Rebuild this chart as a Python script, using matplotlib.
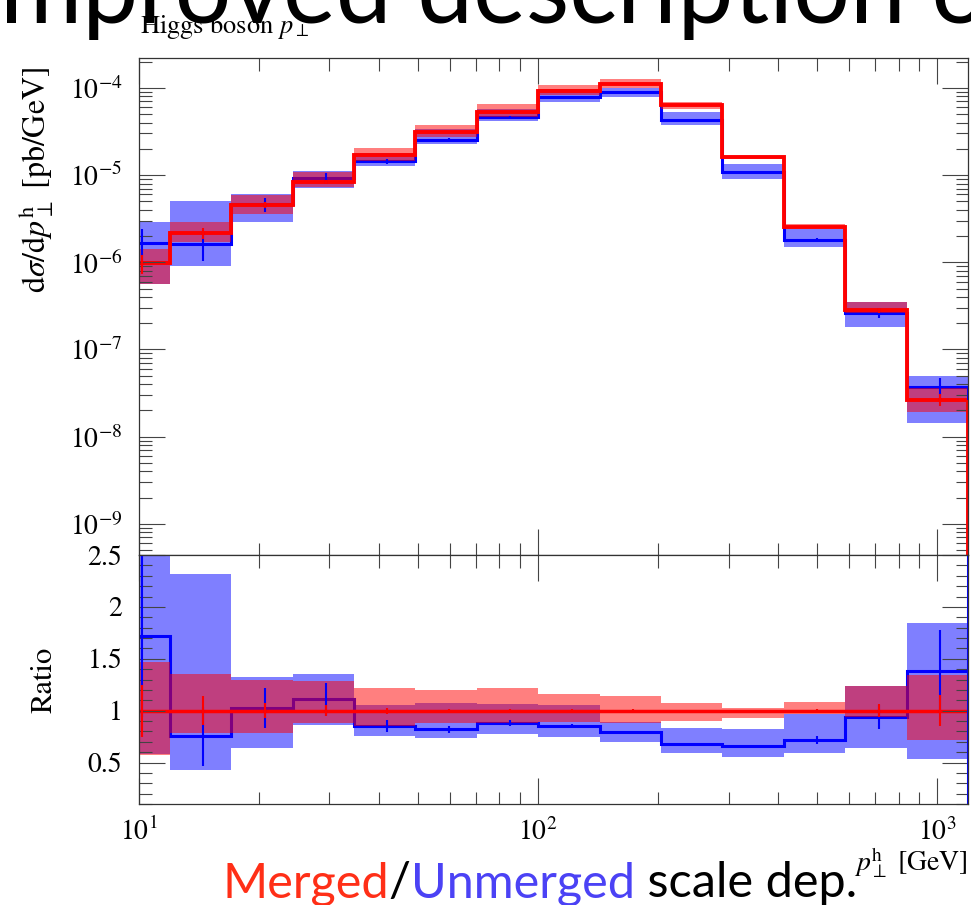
import numpy as np
import matplotlib
matplotlib.use("Agg")
import matplotlib.pyplot as plt
from matplotlib.ticker import LogLocator, MultipleLocator, NullFormatter, FuncFormatter

# bin edges in pT [GeV] (first bin starts below the axis range)
edges = [8.377, 11.938, 17.013, 24.245, 34.551, 49.239, 70.170, 100.0,
         142.51, 203.09, 289.42, 412.46, 587.80, 837.7, 1193.8]

# merged central value [pb/GeV]
merged_xs = [9.7e-7, 2.17e-6, 4.52e-6, 8.35e-6, 1.69e-5, 3.12e-5, 5.31e-5,
             9.3e-5, 1.12e-4, 6.34e-5, 1.63e-5, 2.51e-6, 2.82e-7, 2.67e-8]

# everything below relative to the merged central value (ratio panel)
merged_lo = [0.574, 0.783, 0.783, 0.88, 0.85, 0.88, 0.88,
             0.89, 0.88, 0.897, 0.929, 0.97, 0.94, 0.713]
merged_hi = [1.47, 1.35, 1.292, 1.283, 1.218, 1.196, 1.219,
             1.163, 1.138, 1.077, 1.026, 1.084, 1.234, 1.341]
merged_err = [0.25, 0.14, 0.075, 0.05, 0.03, 0.02, 0.02,
              0.02, 0.015, 0.01, 0.01, 0.02, 0.06, 0.15]

unmerged = [1.72, 0.751, 1.025, 1.109, 0.851, 0.819, 0.877,
            0.848, 0.793, 0.674, 0.658, 0.72, 0.939, 1.379]
unmerged_lo = [0.58, 0.423, 0.642, 0.858, 0.758, 0.735, 0.777,
               0.745, 0.697, 0.593, 0.552, 0.593, 0.642, 0.532]
unmerged_hi = [3.0, 2.313, 1.325, 1.35, 1.05, 1.077, 1.064,
               1.055, 0.89, 0.835, 0.826, 0.97, 1.234, 1.84]
unmerged_err = [0.78, 0.28, 0.19, 0.16, 0.06, 0.035, 0.03,
                0.02, 0.015, 0.015, 0.015, 0.04, 0.12, 0.40]

plt.rcParams["font.family"] = "STIXGeneral"
plt.rcParams["mathtext.fontset"] = "stix"

W, H = 971, 905
fig = plt.figure(figsize=(W / 100, H / 100), dpi=100)
ax = fig.add_axes([139 / W, 1 - 555 / H, 829 / W, 497 / H])
rax = fig.add_axes([139 / W, 1 - 804 / H, 829 / W, 249 / H], sharex=ax)

e = np.array(edges)
ref = np.array(merged_xs)
cen = 0.5 * (e[:-1] + e[1:])
blue = "#0000ff"
red = "#ff0000"

# main panel
ax.stairs(ref * np.array(unmerged_hi), e, baseline=ref * np.array(unmerged_lo),
          fill=True, color=blue, alpha=0.5, lw=0)
ax.stairs(ref * np.array(unmerged), e, baseline=None, color=blue, lw=2.2)
ax.vlines(cen, ref * (np.array(unmerged) - unmerged_err),
          ref * (np.array(unmerged) + unmerged_err), color=blue, lw=1.5)
ax.stairs(ref * np.array(merged_hi), e, baseline=ref * np.array(merged_lo),
          fill=True, color=red, alpha=0.5, lw=0)
ax.vlines(e[-1], 1e-12, ref[-1] * unmerged[-1], color=blue, lw=2.2)
ax.stairs(ref, e, baseline=None, color=red, lw=2.8)
ax.vlines(cen, ref * (1 - np.array(merged_err)), ref * (1 + np.array(merged_err)),
          color=red, lw=1.5)
ax.vlines(e[-1], 1e-12, ref[-1], color=red, lw=2.8)

ax.set_xscale("log")
ax.set_yscale("log")
ax.set_xlim(10, edges[-1])
ax.set_ylim(4.4e-10, 2.2e-4)
ax.yaxis.set_major_locator(LogLocator(base=10, numticks=20))
ax.yaxis.set_minor_locator(LogLocator(base=10, subs=np.arange(2, 10), numticks=100))
ax.yaxis.set_minor_formatter(NullFormatter())
ax.set_ylabel(r"$\mathrm{d}\sigma/\mathrm{d}p_\perp^\mathrm{h}$ [pb/GeV]", fontsize=23)
ax.yaxis.set_label_coords(-0.10, 0.755)
ax.tick_params(labelbottom=False)

# ratio panel
rax.stairs(unmerged_hi, e, baseline=unmerged_lo, fill=True, color=blue, alpha=0.5, lw=0)
rax.stairs(unmerged, e, baseline=None, color=blue, lw=2.2)
rax.vlines(cen, np.array(unmerged) - unmerged_err, np.array(unmerged) + unmerged_err,
           color=blue, lw=1.5)
rax.stairs(merged_hi, e, baseline=merged_lo, fill=True, color=red, alpha=0.5, lw=0)
rax.stairs(ref / ref, e, baseline=None, color=red, lw=2.5)
rax.vlines(cen, 1 - np.array(merged_err), 1 + np.array(merged_err), color=red, lw=1.5)
rax.axvline(e[-1], color=blue, lw=2.2)

rax.set_ylim(0.1, 2.5)
rax.yaxis.set_major_locator(MultipleLocator(0.5))
rax.yaxis.set_minor_locator(MultipleLocator(0.1))
rax.yaxis.set_major_formatter(FuncFormatter(lambda v, p: "%g" % v))
rax.xaxis.set_minor_formatter(NullFormatter())
rax.set_ylabel("Ratio", fontsize=22)
rax.yaxis.set_label_coords(-0.097, 0.5)
rax.set_xlabel(r"$p_\perp^\mathrm{h}$ [GeV]", fontsize=20, loc="right")
rax.xaxis.set_label_coords(1.0, -0.165)

for a in (ax, rax):
    a.tick_params(which="both", direction="in", top=True, right=True,
                  color="#444444", width=0.8, labelsize=20)
    a.tick_params(which="major", length=19)
    a.tick_params(which="minor", length=9)
    a.tick_params(axis="y", pad=12)
    for s in a.spines.values():
        s.set_color("#333333")
        s.set_linewidth(0.9)
rax.tick_params(axis="x", pad=10)

# slide text around the plot
r = fig.canvas.get_renderer()
tmp = fig.text(0, 0, "i", fontsize=72, family="Lato")
wi = tmp.get_window_extent(r).width
tmp.remove()
fig.text(-wi / W, 1 - 23 / H, "improved description of", fontsize=72,
         family="Lato", va="baseline", color="black")

fig.text(140 / W, 1 - 33 / H, r"Higgs boson $p_\perp$", fontsize=19, va="baseline")

x = 222
for s, c in [("Merged", "#ff2f17"), ("/", "black"), ("Unmerged", "#4b42f5"),
             (" scale dep.", "black")]:
    t = fig.text(x / W, 1 - 897 / H, s, fontsize=35, family="Lato",
                 va="baseline", color=c)
    x += t.get_window_extent(r).width

fig.savefig("out.png", dpi=100)
